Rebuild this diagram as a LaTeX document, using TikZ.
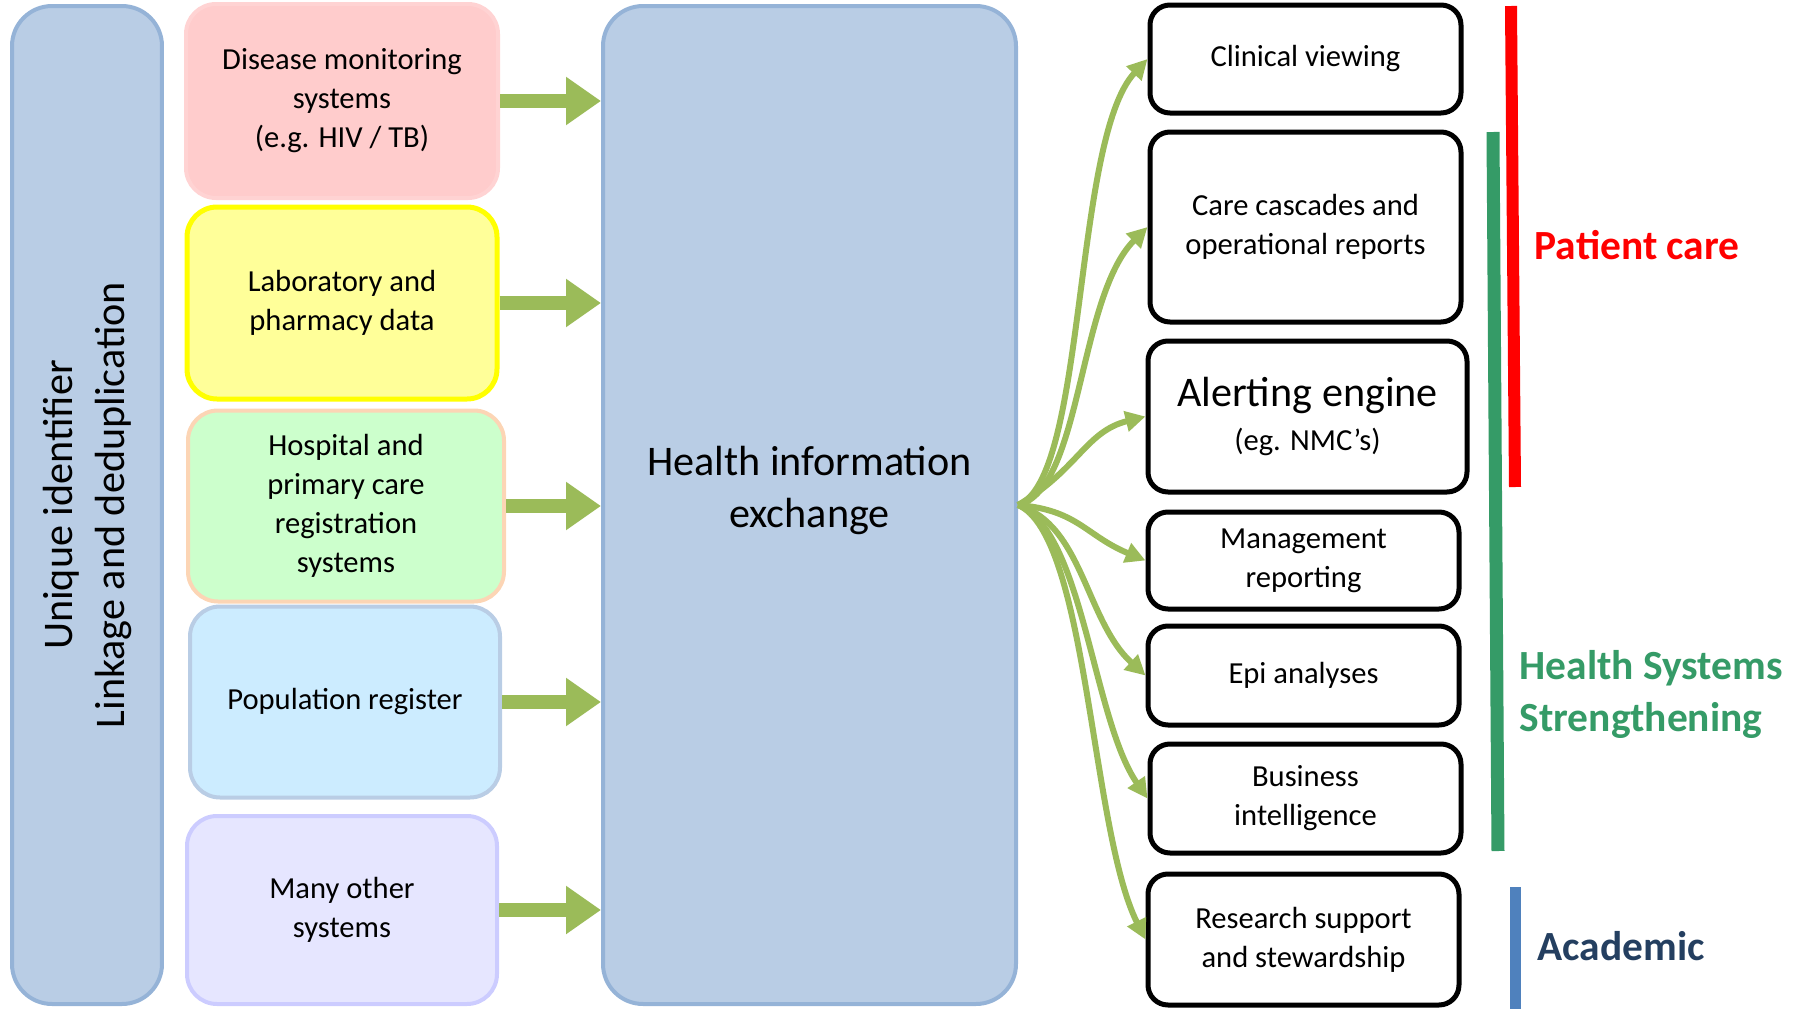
\documentclass[tikz,border=0pt]{standalone}
\usepackage{fontspec}
\setmainfont{Carlito}
\usetikzlibrary{arrows.meta}

\definecolor{hiefill}{HTML}{B9CDE5}
\definecolor{hieline}{HTML}{95B3D7}
\definecolor{feedgreen}{HTML}{9BBB59}
\definecolor{pinkfill}{HTML}{FFCCCC}
\definecolor{pinkline}{HTML}{FFD3D3}
\definecolor{yellowfill}{HTML}{FFFF99}
\definecolor{yellowline}{HTML}{FFFF00}
\definecolor{mintfill}{HTML}{CCFFCC}
\definecolor{mintline}{HTML}{FCD5B5}
\definecolor{skyfill}{HTML}{CCECFF}
\definecolor{skyline}{HTML}{B9CDE5}
\definecolor{lilacfill}{HTML}{E6E6FF}
\definecolor{lilacline}{HTML}{CCCCFF}
\definecolor{carered}{HTML}{FF0000}
\definecolor{hssgreen}{HTML}{359B67}
\definecolor{acadbar}{HTML}{4F81BD}
\definecolor{acadtext}{HTML}{243F60}

\begin{document}
\begin{tikzpicture}[x=0.1mm,y=-0.1mm,
    bigbox/.style={draw=hieline,line width=0.4mm,fill=hiefill,rounded corners=4mm,inner sep=0pt},
    srcbox/.style={rounded corners=3mm,line width=0.4mm,align=center,inner sep=0pt,
      font=\fontsize{8.7}{11.1}\selectfont},
    outbox/.style={draw=black,line width=0.5mm,rounded corners=2mm,align=center,inner sep=0pt,
      minimum width=31.1mm,font=\fontsize{8.7}{11.1}\selectfont},
    feed/.style={draw=feedgreen,line width=1.35mm,-{Triangle[length=3.5mm,width=4.6mm]}},
    flow/.style={draw=feedgreen,line width=0.6mm,-{Triangle[length=2mm,width=2mm]}},
    tag/.style={anchor=west,inner sep=0pt,align=left,font=\fontsize{11.8}{14.8}\selectfont\bfseries}]

  \useasboundingbox (0,0) rectangle (1804,1009);

  \node[bigbox,rotate=90,minimum width=99.8mm,minimum height=15mm,align=center,
    font=\fontsize{12}{14.8}\selectfont] (uid) at (87,505) {Unique identifier\\Linkage and deduplication};
  \node[bigbox,minimum width=41.3mm,minimum height=99.8mm] (hie) at (809.5,505) {};
  \node[align=center,font=\fontsize{12}{14.8}\selectfont] (hietext) at (809.5,490) {Health information\\exchange};

  \node[srcbox,fill=pinkfill,draw=pinkline,minimum width=31.2mm,minimum height=19.4mm] (dis) at (342,101)
    {Disease monitoring\\systems\\(e.g. HIV / TB)};
  \node[srcbox,fill=yellowfill,draw=yellowline,line width=0.5mm,minimum width=31mm,minimum height=19.2mm] (lab) at (342,303)
    {Laboratory and\\pharmacy data};
  \node[srcbox,fill=mintfill,draw=mintline,minimum width=31.6mm,minimum height=19.1mm] (hosp) at (346,506)
    {Hospital and\\primary care\\registration\\systems};
  \node[srcbox,fill=skyfill,draw=skyline,minimum width=31mm,minimum height=19.1mm] (pop) at (345,702)
    {Population register};
  \node[srcbox,fill=lilacfill,draw=lilacline,minimum width=31mm,minimum height=18.8mm] (many) at (342,910)
    {Many other\\systems};

  \foreach \s in {dis,lab,hosp,pop,many}
    \draw[feed] (\s.east) -- (\s.east -| hie.west);

  \node[outbox,minimum height=10.8mm] (clin) at (1305.5,59) {Clinical viewing};
  \node[outbox,minimum height=19mm] (care) at (1305.5,227) {Care cascades and\\operational reports};
  \node[outbox,minimum width=31.9mm,minimum height=15.1mm] (alert) at (1307.5,416.5)
    {{\fontsize{12}{14.8}\selectfont Alerting engine}\\[1.5pt](eg. NMC’s)};
  \node[outbox,minimum height=9.7mm] (mgmt) at (1303.5,560.5) {Management\\reporting};
  \node[outbox,minimum height=9.9mm] (epi) at (1303.5,675.5) {Epi analyses};
  \node[outbox,minimum height=10.9mm] (bi) at (1305.5,798.5) {Business\\intelligence};
  \node[outbox,minimum height=13.1mm] (res) at (1303.5,939.5) {Research support\\and stewardship};

  \foreach \t/\a/\b/\c/\d in {clin/69/-25/-75/80, care/64/-15/-70/70, alert/60/-35/-60/15,
      mgmt/60/5/-60/-25, epi/65/20/-60/-55, bi/65/25/-55/-80, res/70/30/-55/-110}
    \draw[flow] (hie.east) .. controls +(\a,\b) and +(\c,\d) .. (\t.west);

  \draw[line width=1.2mm,carered] (1511,6) -- (1515,487);
  \draw[line width=1.3mm,hssgreen] (1493,132) -- (1498,851);
  \draw[line width=1.1mm,acadbar] (1515,887) -- (1515,1009);

  \node[tag,text=carered] (pcare) at (1534,245) {Patient care};
  \node[tag,text=hssgreen] (hss) at (1519,694) {Health Systems\\Strengthening};
  \node[tag,text=acadtext] (acad) at (1537,946) {Academic};
\end{tikzpicture}
\end{document}
